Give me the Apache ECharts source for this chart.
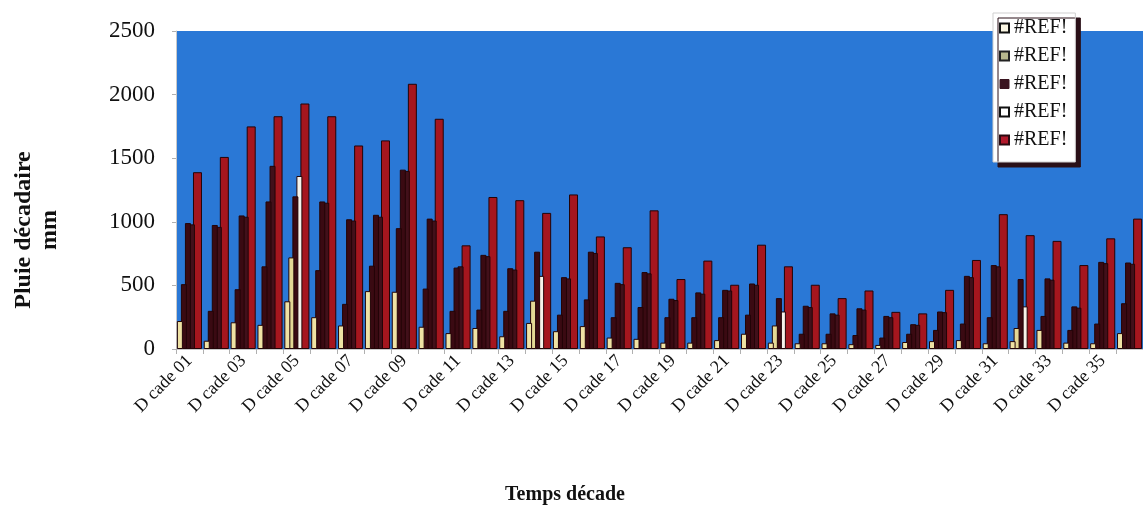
<!DOCTYPE html>
<html><head><meta charset="utf-8">
<script src="https://cdn.jsdelivr.net/npm/echarts@6/dist/echarts.min.js"></script>
<style>html,body{margin:0;padding:0;background:#fff}#c{width:1143px;height:510px}</style>
</head><body><div id="c"></div>
<script>
const categories = ['D cade 01','D cade 02','D cade 03','D cade 04','D cade 05','D cade 06','D cade 07','D cade 08','D cade 09','D cade 10','D cade 11','D cade 12','D cade 13','D cade 14','D cade 15','D cade 16','D cade 17','D cade 18','D cade 19','D cade 20','D cade 21','D cade 22','D cade 23','D cade 24','D cade 25','D cade 26','D cade 27','D cade 28','D cade 29','D cade 30','D cade 31','D cade 32','D cade 33','D cade 34','D cade 35','D cade 36'];
const seriesNames = ['#REF!','#REF!','#REF!','#REF!','#REF!'];
const s1 = [220,65,210,190,375,250,185,455,450,175,125,165,100,205,140,180,90,80,50,50,70,120,50,45,45,38,32,55,62,70,45,62,150,50,45,125];
const s2 = [510,300,470,650,720,620,355,655,950,475,300,310,300,380,270,390,250,330,250,250,250,270,185,120,120,110,90,120,150,200,250,165,260,150,200,360];
const s3 = [990,975,1050,1160,1200,1160,1020,1055,1410,1025,640,740,635,765,565,765,520,605,395,445,465,515,400,340,280,320,260,195,295,575,660,550,555,335,685,680];
const s4 = [980,960,1040,1440,1360,1150,1010,1040,1400,1010,650,730,625,575,555,755,510,595,385,435,460,505,295,330,270,310,250,190,290,565,650,335,545,325,675,670];
const s5 = [1390,1510,1750,1830,1930,1830,1600,1640,2085,1810,815,1195,1170,1070,1215,885,800,1090,550,695,505,820,650,505,400,460,292,280,465,700,1060,895,850,660,870,1025];
const yTicks = [0,500,1000,1500,2000,2500];
const lightCats = [4,13,22,31];

const SERIF = '"Liberation Serif","DejaVu Serif",serif';
const DARK = '#3a0a12';
const EDGE = '#230407';
const chart = echarts.init(document.getElementById('c'), null, {renderer:'canvas'});
function bar(name, data, width, z, colorFn) {
  return {name, type:'bar', data, barWidth:width, barGap:'-33%', z,
    itemStyle:{color:colorFn, borderColor:EDGE, borderWidth:1}, emphasis:{disabled:true}};
}
chart.setOption({
  animation:false,
  grid:{left:176, top:31, width:974, height:318, show:true, backgroundColor:'#2a78d6', borderWidth:0},
  xAxis:{type:'category', data:categories,
    axisLine:{show:true, lineStyle:{color:'#c8c8c8'}},
    axisTick:{show:true, interval:0, length:5, lineStyle:{color:'#b0b0b0'}},
    axisLabel:{interval:1, rotate:45, margin:9, fontFamily:SERIF, fontSize:18, color:'#111'}},
  yAxis:{type:'value', min:yTicks[0], max:yTicks[yTicks.length-1], interval:500,
    splitLine:{show:false},
    axisLine:{show:true, lineStyle:{color:'#c8c8c8'}},
    axisTick:{show:true, length:4, lineStyle:{color:'#b0b0b0'}},
    axisLabel:{margin:21, fontFamily:SERIF, fontSize:23, color:'#111', formatter:v=>String(v)}},
  legend:{orient:'vertical', left:993, top:13, itemWidth:9, itemHeight:9, itemGap:8,
    padding:[5,8,12,6], backgroundColor:'#fff', borderColor:'#cfcfcf', borderWidth:1,
    shadowColor:'#2a1018', shadowOffsetX:5, shadowOffsetY:5, shadowBlur:0,
    selectedMode:false, icon:'rect',
    formatter:(n)=>seriesNames[+n.slice(1)-1],
    textStyle:{fontFamily:SERIF, fontSize:20, color:'#111', lineHeight:20},
    data:[
      {name:'r1', itemStyle:{color:'#fbf7e4', borderColor:'#111', borderWidth:2}},
      {name:'r2', itemStyle:{color:'#b9b98e', borderColor:'#222', borderWidth:2}},
      {name:'r3', itemStyle:{color:'#3a1420', borderColor:'#3a1420', borderWidth:1}},
      {name:'r4', itemStyle:{color:'#ffffff', borderColor:'#111', borderWidth:2}},
      {name:'r5', itemStyle:{color:'#b0182a', borderColor:'#2a0a10', borderWidth:2}}
    ]},
  graphic:[
    {type:'text', x:37, y:230, rotation:Math.PI/2,
      style:{text:'Pluie décadaire\nmm', font:'bold 24px '+SERIF, fill:'#111', textAlign:'center', textVerticalAlign:'middle', lineHeight:26}},
    {type:'text', x:565, y:495,
      style:{text:'Temps décade', font:'bold 20px '+SERIF, fill:'#111', textAlign:'center', textVerticalAlign:'middle'}}
  ],
  series:[
    bar('r1', s1, 6, 6, '#efe2a4'),
    bar('r2', s2, 6, 5, p => lightCats.includes(p.dataIndex) ? '#e4d894' : DARK),
    bar('r3', s3, 6, 4, DARK),
    bar('r4', s4, 6, 3, p => lightCats.includes(p.dataIndex) ? '#f6f3ea' : '#42101a'),
    bar('r5', s5, 9, 2, '#a5161e')
  ]
});
</script></body></html>
